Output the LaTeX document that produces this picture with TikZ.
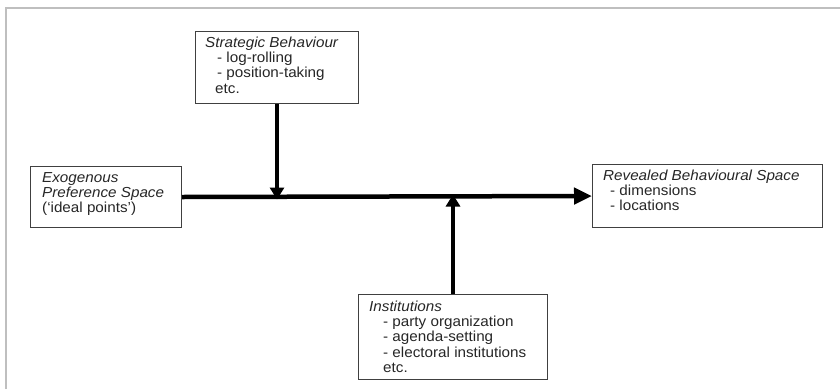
\documentclass[tikz,border=0pt]{standalone}
\usepackage{fontspec}
\setmainfont{Liberation Sans}[FakeStretch=1.05]
\usetikzlibrary{arrows.meta}
\tikzset{
  box/.style={draw=black!75, line width=1pt, rectangle, inner sep=0pt, anchor=north west},
  txt/.style={anchor=north west, inner sep=0pt, align=left, text=black!85,
              font=\fontsize{14.5}{15.3}\selectfont},
  flow/.style={line width=4.5pt, -{Triangle[length=18pt,width=16pt]}},
  infl/.style={line width=4pt, -{Triangle[length=12pt,width=14pt]}},
  frame/.style={draw=black!25, line width=1.2pt}
}
\begin{document}
\begin{tikzpicture}[x=1pt,y=-1pt]
\useasboundingbox (0,0) rectangle (840,389);
\draw[frame] (6,389) -- (6,8) -- (840,8);
% boxes
\node[box, minimum width=163pt, minimum height=72pt] (strat) at (195,31) {};
\node[box, minimum width=151pt, minimum height=61pt] (exo) at (30,166) {};
\node[box, minimum width=230pt, minimum height=63pt] (rev) at (592,164) {};
\node[box, minimum width=189pt, minimum height=85pt] (inst) at (358,294) {};
% texts
\node[txt] (stratT) at (205,36.5) {\textit{Strategic Behaviour}\\\hspace*{12pt}- log-rolling\\\hspace*{12pt}- position-taking\\\hspace*{10pt}etc.};
\node[txt] (exoT) at (42,172) {\textit{Exogenous}\\\textit{Preference Space}\\(‘ideal points’)};
\node[txt] (revT) at (603,169.5) {\textit{Revealed Behavioural Space}\\\hspace*{7pt}- dimensions\\\hspace*{7pt}- locations};
\node[txt] (instT) at (369,300.5) {\textit{Institutions}\\\hspace*{14pt}- party organization\\\hspace*{14pt}- agenda-setting\\\hspace*{14pt}- electoral institutions\\\hspace*{14pt}etc.};
% connectors
\draw[flow] (exo.east) -- (rev.west);
\draw[infl] (strat.south) -- ([yshift=-2.5pt]strat.south |- exo.east);
\draw[infl] (inst.north) -- ([yshift=2.5pt]inst.north |- exo.east);
\end{tikzpicture}
\end{document}
